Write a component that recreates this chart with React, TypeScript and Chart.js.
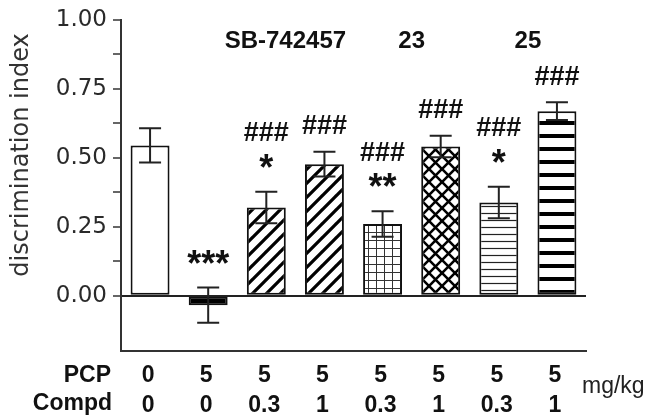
import React, { useEffect, useRef } from 'react';
import { Chart, registerables } from 'chart.js';

Chart.register(...registerables);

const categories = ['Veh', 'PCP', 'SB 0.3', 'SB 1', '23 0.3', '23 1', '25 0.3', '25 1'];
const pcpDoses = ['0', '5', '5', '5', '5', '5', '5', '5'];
const compdDoses = ['0', '0', '0.3', '1', '0.3', '1', '0.3', '1'];
const meanValues = [0.545, -0.034, 0.32, 0.477, 0.26, 0.541, 0.338, 0.669];
const semValues = [0.062, 0.064, 0.057, 0.045, 0.046, 0.039, 0.057, 0.032];
const starMarks = ['', '***', '*', '', '**', '', '*', ''];
const hashMarks = ['', '', '###', '###', '###', '###', '###', '###'];
const fillKinds = ['white', 'black', 'diag', 'diag', 'grid', 'cross', 'hthin', 'hthick'];
const groupNames = ['SB-742457', '23', '25'];
const groupBars = [[2, 3], [4, 5], [6, 7]];
const yTickValues = [0, 0.25, 0.5, 0.75, 1];

function makeFill(kind: string): CanvasPattern | string {
  if (kind === 'white') return '#ffffff';
  if (kind === 'black') return '#000000';
  const c = document.createElement('canvas');
  const ctx = c.getContext('2d')!;
  let w = 10, h = 10;
  if (kind === 'diag') { w = 14; h = 14; }
  if (kind === 'grid') { w = 8; h = 8; }
  if (kind === 'cross') { w = 13; h = 13; }
  if (kind === 'hthin') { w = 8; h = 7; }
  if (kind === 'hthick') { w = 8; h = 13; }
  c.width = w; c.height = h;
  ctx.fillStyle = '#fff';
  ctx.fillRect(0, 0, w, h);
  ctx.strokeStyle = '#000';
  ctx.lineCap = 'square';
  if (kind === 'diag') {
    ctx.lineWidth = 3.2;
    for (const o of [-w, 0, w]) {
      ctx.beginPath();
      ctx.moveTo(o, h);
      ctx.lineTo(o + w, 0);
      ctx.stroke();
    }
  } else if (kind === 'grid') {
    ctx.strokeStyle = '#333';
    ctx.lineWidth = 1;
    ctx.beginPath();
    ctx.moveTo(0.5, 0); ctx.lineTo(0.5, h);
    ctx.moveTo(0, 0.5); ctx.lineTo(w, 0.5);
    ctx.stroke();
  } else if (kind === 'cross') {
    ctx.lineWidth = 2.6;
    for (const o of [-w, 0, w]) {
      ctx.beginPath();
      ctx.moveTo(o, h); ctx.lineTo(o + w, 0);
      ctx.moveTo(o, 0); ctx.lineTo(o + w, h);
      ctx.stroke();
    }
  } else if (kind === 'hthin') {
    ctx.strokeStyle = '#222';
    ctx.lineWidth = 1.2;
    ctx.beginPath();
    ctx.moveTo(0, 3.5); ctx.lineTo(w, 3.5);
    ctx.stroke();
  } else if (kind === 'hthick') {
    ctx.fillStyle = '#000';
    ctx.fillRect(0, 4, w, 4);
  }
  return ctx.createPattern(c, 'repeat')!;
}

function drawCenteredText(ctx: CanvasRenderingContext2D, text: string, x: number, y: number) {
  const m = ctx.measureText(text);
  ctx.textBaseline = 'alphabetic';
  ctx.fillText(text, x, y + (m.actualBoundingBoxAscent - m.actualBoundingBoxDescent) / 2);
}

const overlayPlugin = {
  id: 'overlay',
  afterDatasetsDraw(chart: any) {
    const ctx: CanvasRenderingContext2D = chart.ctx;
    const xs = chart.scales.x;
    const ys = chart.scales.y;
    const meta = chart.getDatasetMeta(0);
    const area = chart.chartArea;
    ctx.save();
    // error bars
    ctx.strokeStyle = '#222';
    ctx.lineWidth = 2;
    meanValues.forEach((v, i) => {
      const x = meta.data[i].x;
      const yt = ys.getPixelForValue(v + semValues[i]);
      const yb = ys.getPixelForValue(v - semValues[i]);
      ctx.beginPath();
      ctx.moveTo(x, yt); ctx.lineTo(x, yb);
      ctx.moveTo(x - 11, yt); ctx.lineTo(x + 11, yt);
      ctx.moveTo(x - 11, yb); ctx.lineTo(x + 11, yb);
      ctx.stroke();
    });
    // significance marks
    ctx.fillStyle = '#111';
    ctx.textAlign = 'center';
    meanValues.forEach((v, i) => {
      const x = meta.data[i].x;
      const yt = ys.getPixelForValue(v + semValues[i]);
      let off = 27;
      if (starMarks[i]) {
        ctx.font = 'bold 36px "Liberation Sans", Arial, sans-serif';
        drawCenteredText(ctx, starMarks[i], x, yt - 31);
        off = 60;
      }
      if (hashMarks[i]) {
        ctx.font = 'bold 27px "Liberation Sans", Arial, sans-serif';
        drawCenteredText(ctx, hashMarks[i], x, yt - off);
      }
    });
    // group labels
    ctx.font = 'bold 24px "Liberation Sans", Arial, sans-serif';
    groupNames.forEach((g, k) => {
      const [a, b] = groupBars[k];
      const x = (xs.getPixelForValue(a) + xs.getPixelForValue(b)) / 2 - (k === 0 ? 10 : 0);
      drawCenteredText(ctx, g, x, area.top + 20);
    });
    // dose table
    ctx.font = 'bold 23px "Liberation Sans", Arial, sans-serif';
    const r1 = area.bottom + 22;
    const r2 = area.bottom + 52;
    pcpDoses.forEach((d, i) => {
      const x = xs.getPixelForValue(i) - 2;
      drawCenteredText(ctx, d, x, r1);
      drawCenteredText(ctx, compdDoses[i], x, r2);
    });
    ctx.textAlign = 'right';
    drawCenteredText(ctx, 'PCP', 111, r1);
    drawCenteredText(ctx, 'Compd', 112, r2);
    ctx.textAlign = 'left';
    ctx.font = '23px "Liberation Sans", Arial, sans-serif';
    ctx.fillStyle = '#222';
    ctx.textBaseline = 'middle';
    ctx.fillText('mg/kg', 582, (r1 + r2) / 2 - 1);
    // y title
    ctx.translate(22, 155);
    ctx.rotate(-Math.PI / 2);
    ctx.textAlign = 'center';
    ctx.textBaseline = 'middle';
    ctx.font = '24px "DejaVu Sans", sans-serif';
    ctx.fillStyle = '#333';
    ctx.fillText('discrimination index', 0, 0);
    ctx.restore();
  },
};

export default function App() {
  const ref = useRef<HTMLCanvasElement>(null);
  useEffect(() => {
    const canvas = ref.current!;
    const fills = fillKinds.map(makeFill);
    const chart = new Chart(canvas, {
      type: 'bar',
      data: {
        labels: categories,
        datasets: [
          {
            data: meanValues,
            backgroundColor: fills as any,
            borderColor: '#111',
            borderWidth: 2,
            borderSkipped: false,
            barPercentage: 0.67,
            categoryPercentage: 1,
          },
        ],
      },
      options: {
        responsive: false,
        animation: false,
        devicePixelRatio: 1,
        layout: { padding: { top: 14, right: 72, left: 0, bottom: 0 } },
        plugins: { legend: { display: false }, tooltip: { enabled: false } },
        scales: {
          x: {
            grid: { display: false },
            ticks: { display: false },
            border: { display: true, color: '#333', width: 2 },
            afterFit: (s: any) => { s.height = 66; },
          },
          y: {
            min: -0.2,
            max: 1,
            ticks: {
              stepSize: 0.125,
              padding: 6,
              color: '#2a2a2a',
              font: { family: '"DejaVu Sans", sans-serif', size: 23 },
              callback: (v: any) =>
                yTickValues.some((t) => Math.abs(t - Number(v)) < 1e-6) ? Number(v).toFixed(2) : '',
            },
            afterBuildTicks: (s: any) => {
              s.ticks = s.ticks.filter((t: any) => t.value > -0.15);
            },
            grid: {
              drawOnChartArea: true,
              color: (c: any) => (c.tick && Math.abs(c.tick.value) < 1e-9 ? '#222' : 'rgba(0,0,0,0)'),
              lineWidth: 2,
              tickColor: '#333',
              tickLength: 8,
              tickWidth: 1.5,
            },
            border: { display: true, color: '#333', width: 2 },
            afterFit: (s: any) => { s.width = 121; },
          },
        },
      },
      plugins: [overlayPlugin],
    });
    return () => chart.destroy();
  }, []);
  return (
    <div style={{ position: 'absolute', left: 0, top: 0, width: 658, height: 417, background: '#fff' }}>
      <canvas ref={ref} width={658} height={417} style={{ width: 658, height: 417, display: 'block' }} />
    </div>
  );
}
